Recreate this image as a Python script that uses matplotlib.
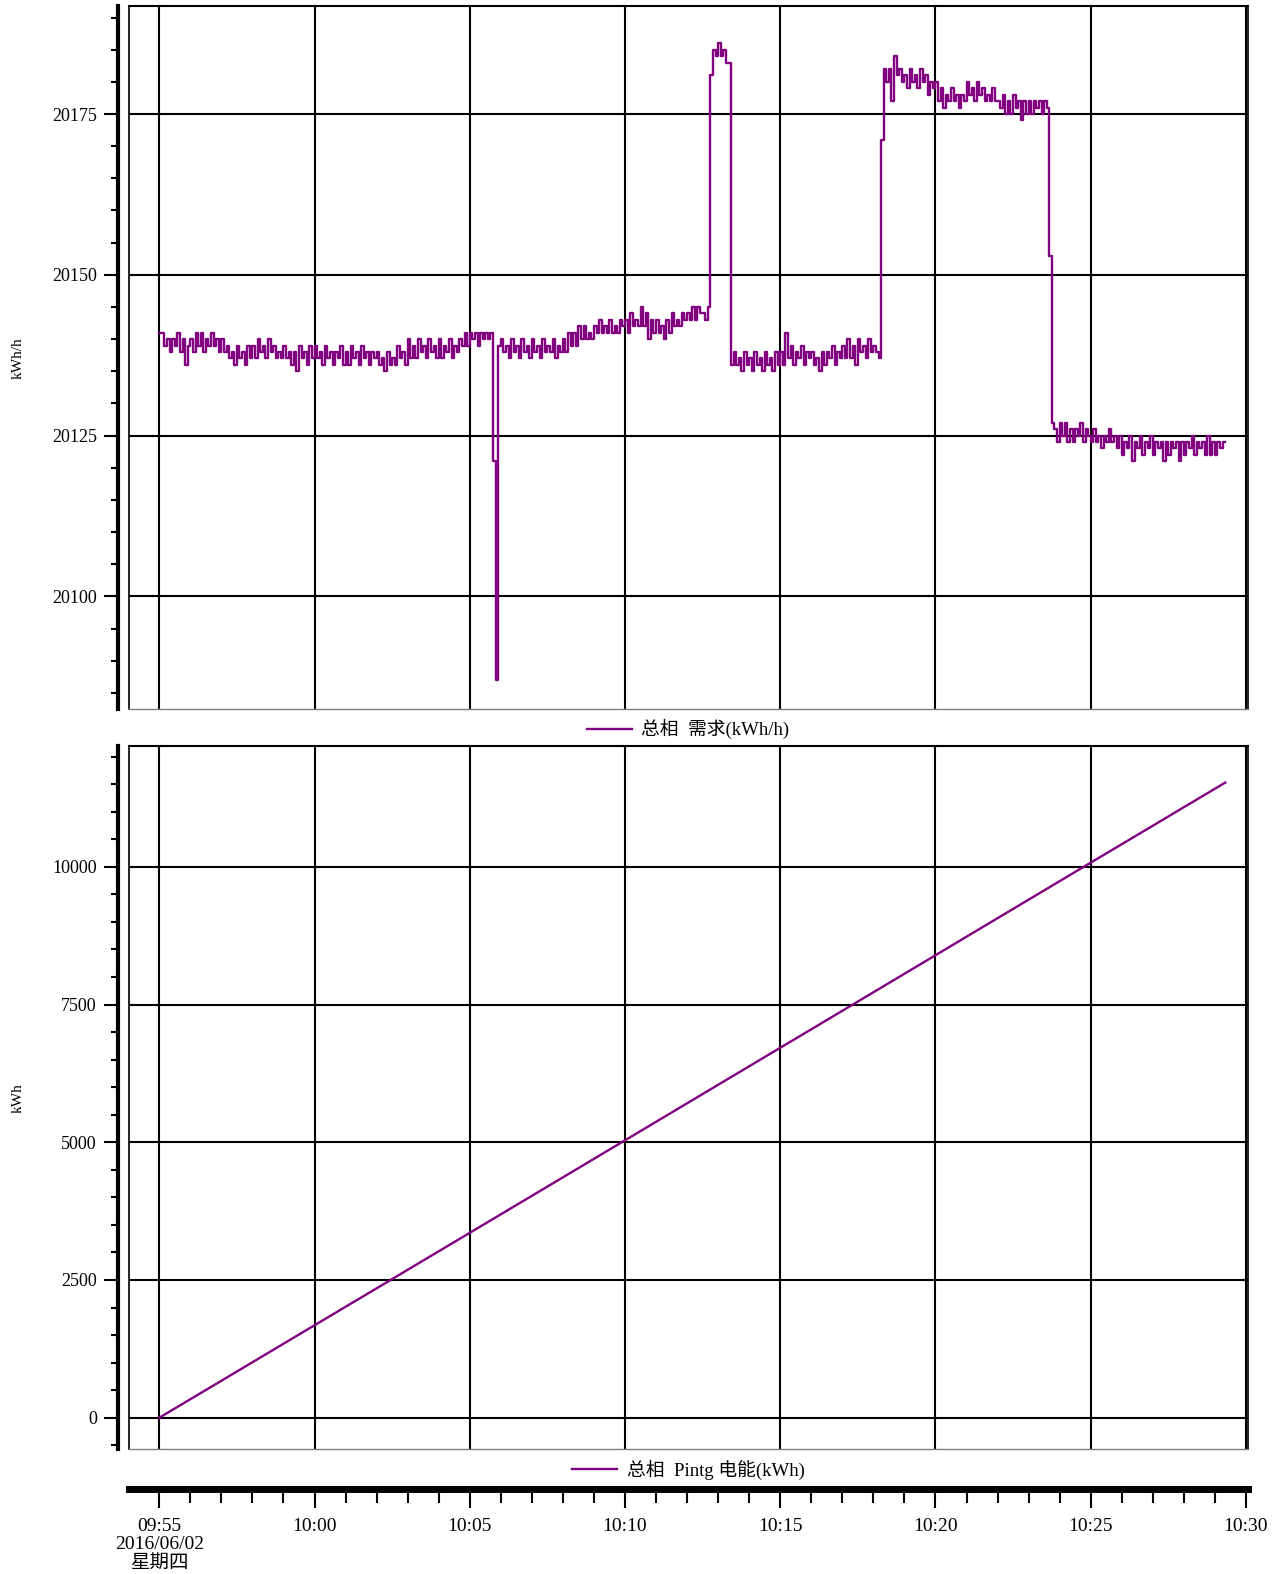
import matplotlib
matplotlib.use('Agg')
import matplotlib.pyplot as plt
import matplotlib.dates as mdates
from matplotlib.ticker import MultipleLocator, FuncFormatter
import pandas as pd

plt.rcParams['font.family'] = ['Liberation Serif', 'Noto Sans CJK SC']
plt.rcParams['axes.unicode_minus'] = False

# total demand, one reading every 5 s from 09:55:00 (12 per row = 1 minute)
demand = [
    20141, 20141, 20139, 20140, 20138, 20140, 20139, 20141, 20138, 20140, 20136, 20139,
    20140, 20138, 20141, 20139, 20141, 20138, 20140, 20139, 20141, 20139, 20140, 20138,
    20140, 20138, 20139, 20137, 20138, 20136, 20139, 20137, 20138, 20136, 20139, 20137,
    20139, 20137, 20140, 20138, 20139, 20137, 20140, 20138, 20139, 20137, 20138, 20137,
    20139, 20137, 20138, 20136, 20138, 20135, 20139, 20137, 20138, 20136, 20139, 20137,
    20139, 20137, 20138, 20136, 20139, 20137, 20138, 20136, 20138, 20137, 20139, 20136,
    20138, 20136, 20139, 20137, 20138, 20136, 20139, 20137, 20138, 20136, 20138, 20137,
    20138, 20136, 20137, 20135, 20138, 20136, 20137, 20136, 20139, 20137, 20138, 20136,
    20140, 20137, 20139, 20137, 20140, 20138, 20139, 20137, 20140, 20138, 20139, 20137,
    20140, 20137, 20139, 20138, 20140, 20137, 20139, 20138, 20140, 20139, 20141, 20139,
    20141, 20140, 20141, 20139, 20141, 20140, 20141, 20140, 20141, 20121, 20087, 20139,
    20140, 20138, 20139, 20137, 20140, 20138, 20139, 20137, 20140, 20138, 20139, 20137,
    20140, 20138, 20139, 20137, 20140, 20138, 20139, 20138, 20140, 20137, 20139, 20138,
    20140, 20138, 20141, 20139, 20141, 20139, 20142, 20140, 20142, 20140, 20141, 20140,
    20142, 20141, 20143, 20141, 20142, 20141, 20143, 20141, 20142, 20141, 20143, 20142,
    20143, 20141, 20144, 20142, 20143, 20142, 20145, 20142, 20144, 20140, 20143, 20141,
    20143, 20141, 20142, 20140, 20143, 20141, 20144, 20142, 20143, 20142, 20144, 20143,
    20144, 20143, 20145, 20143, 20145, 20144, 20144, 20143, 20145, 20181, 20185, 20184,
    20186, 20184, 20185, 20183, 20183, 20136, 20138, 20136, 20137, 20135, 20138, 20136,
    20137, 20135, 20138, 20136, 20137, 20135, 20138, 20136, 20137, 20135, 20138, 20136,
    20138, 20136, 20141, 20137, 20139, 20136, 20138, 20137, 20139, 20136, 20138, 20137,
    20138, 20136, 20137, 20135, 20138, 20136, 20138, 20137, 20139, 20136, 20138, 20137,
    20139, 20137, 20140, 20137, 20139, 20136, 20140, 20138, 20139, 20137, 20140, 20138,
    20139, 20138, 20137, 20171, 20182, 20180, 20182, 20177, 20184, 20181, 20182, 20180,
    20181, 20179, 20182, 20180, 20181, 20179, 20182, 20180, 20181, 20178, 20180, 20179,
    20180, 20177, 20179, 20176, 20178, 20177, 20179, 20177, 20178, 20176, 20178, 20177,
    20180, 20178, 20179, 20177, 20180, 20178, 20179, 20177, 20178, 20177, 20179, 20177,
    20177, 20176, 20178, 20175, 20177, 20175, 20178, 20176, 20177, 20174, 20177, 20175,
    20177, 20175, 20177, 20176, 20177, 20175, 20177, 20176, 20153, 20127, 20126, 20124,
    20127, 20125, 20127, 20124, 20126, 20124, 20126, 20125, 20127, 20124, 20126, 20125,
    20124, 20126, 20124, 20125, 20123, 20125, 20124, 20126, 20124, 20125, 20123, 20125,
    20122, 20124, 20123, 20125, 20121, 20124, 20123, 20125, 20122, 20124, 20123, 20125,
    20122, 20124, 20123, 20124, 20121, 20124, 20122, 20124, 20123, 20124, 20121, 20124,
    20122, 20124, 20123, 20125, 20122, 20124, 20123, 20124, 20122, 20125, 20122, 20124,
    20122, 20124, 20123, 20124,
]

# accumulated energy, once a minute plus the last reading at 10:29:20
energy = [0, 336, 671, 1007, 1343, 1678, 2014, 2349, 2685, 3021, 3356, 3692,
          4027, 4363, 4699, 5035, 5371, 5707, 6043, 6379, 6715, 7050, 7386,
          7722, 8058, 8394, 8731, 9067, 9403, 9739, 10075, 10410, 10745,
          11081, 11416, 11528]

demand_t = pd.date_range('2016-06-02 09:55:00', periods=len(demand) + 1, freq='5s')
energy_t = list(pd.date_range('2016-06-02 09:55', periods=len(energy) - 1, freq='min'))
energy_t.append(pd.Timestamp('2016-06-02 10:29:20'))

weekdays = ['星期一', '星期二', '星期三', '星期四', '星期五', '星期六', '星期日']
t0 = pd.Timestamp('2016-06-02 09:54:01')
t1 = pd.Timestamp('2016-06-02 10:30:04')
purple = '#800080'

fig = plt.figure(figsize=(12.85, 15.74), dpi=100)
ax1 = fig.add_axes([0.1002, 0.5496, 0.871, 0.4466])
ax2 = fig.add_axes([0.1002, 0.0794, 0.871, 0.4466], sharex=ax1)
ax3 = fig.add_axes([0.1002, 0.0543, 0.871, 0.0001], sharex=ax1)

l1, = ax1.step(demand_t, demand + [demand[-1]], where='post', color=purple, lw=1.7)
l2, = ax2.plot(energy_t, energy, color=purple, lw=1.7)


def style_panel(ax, ylim, major, minor):
    ax.set_xlim(t0, t1)
    ax.set_ylim(*ylim)
    ax.yaxis.set_major_locator(MultipleLocator(major))
    ax.yaxis.set_minor_locator(MultipleLocator(minor))
    ax.grid(True, which='major', color='black', lw=1.5)
    ax.tick_params(axis='x', which='both', length=0, labelbottom=False)
    ax.tick_params(axis='y', which='major', length=10, width=1.5, labelsize=13, pad=5)
    ax.tick_params(axis='y', which='minor', length=5, width=1.5)
    ax.spines['left'].set_position(('outward', 8))
    ax.spines['left'].set_linewidth(3)
    ax.spines['top'].set_linewidth(1.5)
    ax.spines['right'].set_linewidth(1.2)
    ax.spines['bottom'].set_color('#808080')
    ax.spines['bottom'].set_linewidth(1)
    ax.plot([0, 0], [0, 1], transform=ax.transAxes, color='black', lw=1.2, clip_on=False)


style_panel(ax1, (20082.5, 20191.8), 25, 5)
style_panel(ax2, (-568, 12191), 2500, 500)

ax1.xaxis.set_major_locator(mdates.MinuteLocator(byminute=range(0, 60, 5)))
ax1.xaxis.set_minor_locator(mdates.MinuteLocator())


def time_label(x, pos):
    d = mdates.num2date(x)
    s = d.strftime('%H:%M')
    if d.hour == 9 and d.minute == 55:
        s += '\n' + d.strftime('%Y/%m/%d') + '\n' + weekdays[d.weekday()]
    return s


ax1.xaxis.set_major_formatter(FuncFormatter(time_label))

# separate time scale under both panels
for s in ['left', 'right', 'top']:
    ax3.spines[s].set_visible(False)
ax3.spines['bottom'].set_linewidth(5)
ax3.patch.set_visible(False)
ax3.set_yticks([])
ax3.tick_params(axis='x', which='major', length=14, width=1.5, labelsize=14, pad=7,
                labelbottom=True)
ax3.tick_params(axis='x', which='minor', length=10, width=1.5)

ax1.legend([l1], ['总相  需求(kWh/h)'], loc='center', bbox_to_anchor=(0.5, -0.029),
           frameon=False, handlelength=2.4, handletextpad=0.5, fontsize=13.5)
ax2.legend([l2], ['总相  Pintg 电能(kWh)'], loc='center', bbox_to_anchor=(0.5, -0.029),
           frameon=False, handlelength=2.4, handletextpad=0.5, fontsize=13.5)

fig.text(18 / 1285, 0.7723, 'kWh/h', rotation=90, ha='center', va='center', fontsize=11)
fig.text(18 / 1285, 0.3024, 'kWh', rotation=90, ha='center', va='center', fontsize=11)

fig.canvas.draw()
for lbl in ax3.get_xticklabels():
    lbl.set_linespacing(1.12)

fig.savefig('out.png', dpi=100)
